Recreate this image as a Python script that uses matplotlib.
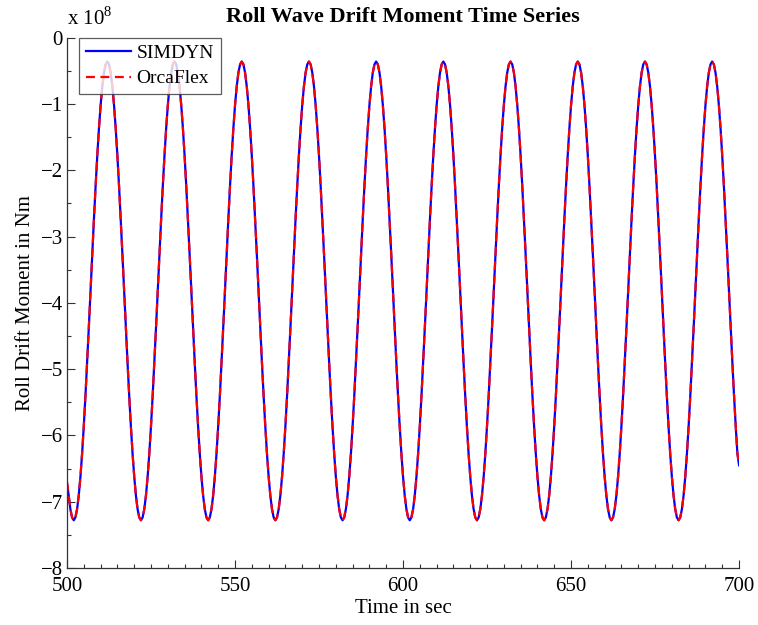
import numpy as np
import matplotlib
matplotlib.use("Agg")
import matplotlib.pyplot as plt
from matplotlib.ticker import MultipleLocator

plt.rcParams['font.family'] = ['Liberation Serif', 'DejaVu Serif']
plt.rcParams['mathtext.fontset'] = 'custom'
plt.rcParams['mathtext.rm'] = 'Liberation Serif'

# time samples (s), every 0.5 s from 500 to 700
time_s = np.arange(500.0, 700.01, 0.5)

# Roll drift moment, in units of 1e8 Nm
simdyn_e8 = [
    -6.720, -6.903, -7.111, -7.237, -7.280, -7.237, -7.111, -6.903, -6.619, -6.267, -5.854, -5.391, -4.889, -4.361, -3.820, -3.279, -2.751, -2.249, -1.786, -1.373, -1.021, -0.737, -0.529, -0.403, -0.360, -0.403, -0.529, -0.737, -1.021, -1.373, -1.786, -2.249, -2.751, -3.279, -3.820, -4.361, -4.889, -5.391, -5.854, -6.267,
    -6.619, -6.903, -7.111, -7.237, -7.280, -7.237, -7.111, -6.903, -6.619, -6.267, -5.854, -5.391, -4.889, -4.361, -3.820, -3.279, -2.751, -2.249, -1.786, -1.373, -1.021, -0.737, -0.529, -0.403, -0.360, -0.403, -0.529, -0.737, -1.021, -1.373, -1.786, -2.249, -2.751, -3.279, -3.820, -4.361, -4.889, -5.391, -5.854, -6.267,
    -6.619, -6.903, -7.111, -7.237, -7.280, -7.237, -7.111, -6.903, -6.619, -6.267, -5.854, -5.391, -4.889, -4.361, -3.820, -3.279, -2.751, -2.249, -1.786, -1.373, -1.021, -0.737, -0.529, -0.403, -0.360, -0.403, -0.529, -0.737, -1.021, -1.373, -1.786, -2.249, -2.751, -3.279, -3.820, -4.361, -4.889, -5.391, -5.854, -6.267,
    -6.619, -6.903, -7.111, -7.237, -7.280, -7.237, -7.111, -6.903, -6.619, -6.267, -5.854, -5.391, -4.889, -4.361, -3.820, -3.279, -2.751, -2.249, -1.786, -1.373, -1.021, -0.737, -0.529, -0.403, -0.360, -0.403, -0.529, -0.737, -1.021, -1.373, -1.786, -2.249, -2.751, -3.279, -3.820, -4.361, -4.889, -5.391, -5.854, -6.267,
    -6.619, -6.903, -7.111, -7.237, -7.280, -7.237, -7.111, -6.903, -6.619, -6.267, -5.854, -5.391, -4.889, -4.361, -3.820, -3.279, -2.751, -2.249, -1.786, -1.373, -1.021, -0.737, -0.529, -0.403, -0.360, -0.403, -0.529, -0.737, -1.021, -1.373, -1.786, -2.249, -2.751, -3.279, -3.820, -4.361, -4.889, -5.391, -5.854, -6.267,
    -6.619, -6.903, -7.111, -7.237, -7.280, -7.237, -7.111, -6.903, -6.619, -6.267, -5.854, -5.391, -4.889, -4.361, -3.820, -3.279, -2.751, -2.249, -1.786, -1.373, -1.021, -0.737, -0.529, -0.403, -0.360, -0.403, -0.529, -0.737, -1.021, -1.373, -1.786, -2.249, -2.751, -3.279, -3.820, -4.361, -4.889, -5.391, -5.854, -6.267,
    -6.619, -6.903, -7.111, -7.237, -7.280, -7.237, -7.111, -6.903, -6.619, -6.267, -5.854, -5.391, -4.889, -4.361, -3.820, -3.279, -2.751, -2.249, -1.786, -1.373, -1.021, -0.737, -0.529, -0.403, -0.360, -0.403, -0.529, -0.737, -1.021, -1.373, -1.786, -2.249, -2.751, -3.279, -3.820, -4.361, -4.889, -5.391, -5.854, -6.267,
    -6.619, -6.903, -7.111, -7.237, -7.280, -7.237, -7.111, -6.903, -6.619, -6.267, -5.854, -5.391, -4.889, -4.361, -3.820, -3.279, -2.751, -2.249, -1.786, -1.373, -1.021, -0.737, -0.529, -0.403, -0.360, -0.403, -0.529, -0.737, -1.021, -1.373, -1.786, -2.249, -2.751, -3.279, -3.820, -4.361, -4.889, -5.391, -5.854, -6.267,
    -6.619, -6.903, -7.111, -7.237, -7.280, -7.237, -7.111, -6.903, -6.619, -6.267, -5.854, -5.391, -4.889, -4.361, -3.820, -3.279, -2.751, -2.249, -1.786, -1.373, -1.021, -0.737, -0.529, -0.403, -0.360, -0.403, -0.529, -0.737, -1.021, -1.373, -1.786, -2.249, -2.751, -3.279, -3.820, -4.361, -4.889, -5.391, -5.854, -6.267,
    -6.619, -6.903, -7.111, -7.237, -7.280, -7.237, -7.111, -6.903, -6.619, -6.267, -5.854, -5.391, -4.889, -4.361, -3.820, -3.279, -2.751, -2.249, -1.786, -1.373, -1.021, -0.737, -0.529, -0.403, -0.360, -0.403, -0.529, -0.737, -1.021, -1.373, -1.786, -2.249, -2.751, -3.279, -3.820, -4.361, -4.889, -5.391, -5.854, -6.267,
    -6.450,
]
orcaflex_e8 = list(simdyn_e8)
orcaflex_e8[0] = -6.700

x_ticks = [500, 550, 600, 650, 700]
y_ticks = [0, -1, -2, -3, -4, -5, -6, -7, -8]

fig = plt.figure(figsize=(7.58, 6.25), dpi=100)
ax = fig.add_axes([0.0884, 0.0912, 0.8866, 0.8485])

ax.plot(time_s, simdyn_e8, color='#0000ff', lw=1.6, label='SIMDYN')
ax.plot(time_s, orcaflex_e8, color='#ff0000', lw=1.6, dashes=(4, 2.5), label='OrcaFlex')

ax.set_xlim(500, 700)
ax.set_ylim(-8, 0)
ax.set_xticks(x_ticks)
ax.set_yticks(y_ticks)
ax.xaxis.set_minor_locator(MultipleLocator(5))
ax.yaxis.set_minor_locator(MultipleLocator(0.5))
ax.tick_params(which='both', direction='in', top=False, right=False, labelsize=15, width=0.8, color='#333333')
ax.tick_params(which='major', length=6)
ax.tick_params(which='minor', length=3)
ax.tick_params(axis='x', which='major', pad=6.5)
ax.tick_params(axis='y', which='major', pad=3)
for s in ['top', 'right']:
    ax.spines[s].set_visible(False)
for s in ['left', 'bottom']:
    ax.spines[s].set_color('#333333')
    ax.spines[s].set_linewidth(0.9)

ax.set_xlabel('Time in sec', fontsize=15, labelpad=2)
ax.set_ylabel('Roll Drift Moment in Nm', fontsize=15, labelpad=4)
ax.set_title('Roll Wave Drift Moment Time Series', fontsize=16, fontweight='bold', pad=11)
ax.text(0.0, 1.015, r'x 10$^{8}$', transform=ax.transAxes, fontsize=15, ha='left', va='bottom')

leg = ax.legend(loc='upper left', bbox_to_anchor=(0.018, 1.0), borderaxespad=0,
                fontsize=14, frameon=True, fancybox=False, handlelength=2.3,
                handletextpad=0.3, labelspacing=0.4, borderpad=0.35)
leg.get_frame().set_edgecolor('#333333')
leg.get_frame().set_linewidth(0.9)

fig.savefig('out.png', dpi=100)
